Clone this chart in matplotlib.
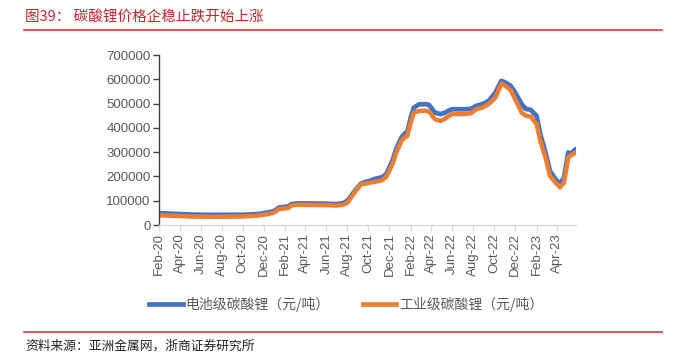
import pandas as pd
import matplotlib.pyplot as plt
import matplotlib.dates as mdates
from matplotlib.lines import Line2D

plt.rcParams['font.family'] = ['Noto Sans CJK SC', 'DejaVu Sans']

dates = pd.to_datetime([
    "2020-02-01", "2020-03-15", "2020-05-01", "2020-06-15", "2020-08-01", "2020-10-01",
    "2020-11-15", "2020-12-15", "2021-01-01", "2021-01-15", "2021-02-01", "2021-02-10",
    "2021-02-20", "2021-03-10", "2021-04-01", "2021-06-01", "2021-07-01", "2021-07-20",
    "2021-08-01", "2021-08-10", "2021-08-25", "2021-09-10", "2021-09-20", "2021-10-05",
    "2021-10-20", "2021-11-01", "2021-11-10", "2021-11-22", "2021-12-10", "2021-12-20",
    "2022-01-05", "2022-01-15", "2022-01-22", "2022-02-01", "2022-02-10", "2022-02-25",
    "2022-03-15", "2022-03-25", "2022-04-01", "2022-04-12", "2022-04-28", "2022-05-10",
    "2022-05-20", "2022-06-01", "2022-07-01", "2022-07-25", "2022-08-10", "2022-08-28",
    "2022-09-15", "2022-10-05", "2022-10-15", "2022-10-22", "2022-11-03", "2022-11-18",
    "2022-12-01", "2022-12-20", "2023-01-01", "2023-01-15", "2023-02-01", "2023-02-12",
    "2023-02-27", "2023-03-12", "2023-03-28", "2023-04-10", "2023-04-22", "2023-05-04",
    "2023-05-10", "2023-05-26",
])

battery = [
    49000, 46000, 43000, 42000, 42000, 42000,
    45000, 52000, 58000, 72000, 75000, 77000,
    86000, 89000, 89000, 88000, 86000, 90000,
    100000, 116000, 145000, 171000, 176000, 182000,
    190000, 194000, 197000, 210000, 265000, 310000,
    361000, 378000, 382000, 443000, 484000, 497000,
    498000, 496000, 484000, 463000, 457000, 462000,
    470000, 477000, 477000, 478000, 491000, 498000,
    511000, 546000, 575000, 594000, 587000, 573000,
    546000, 498000, 478000, 475000, 450000, 374000,
    299000, 223000, 189000, 169000, 196000, 299000,
    292000, 313000,
]

industrial = [
    40000, 38000, 35000, 34000, 34000, 35000,
    39000, 45000, 52000, 66000, 68000, 70000,
    80000, 84000, 83000, 82000, 80000, 84000,
    92000, 110000, 140000, 168000, 170000, 174000,
    178000, 181000, 185000, 199000, 251000, 295000,
    347000, 362000, 367000, 422000, 463000, 470000,
    471000, 468000, 457000, 436000, 429000, 436000,
    447000, 457000, 457000, 460000, 477000, 484000,
    498000, 525000, 560000, 583000, 573000, 556000,
    518000, 463000, 450000, 447000, 416000, 347000,
    278000, 203000, 175000, 155000, 175000, 278000,
    285000, 299000,
]

series_names = ["电池级碳酸锂（元/吨）", "工业级碳酸锂（元/吨）"]
title = "图39： 碳酸锂价格企稳止跌开始上涨"
source = "资料来源：亚洲金属网，浙商证券研究所"

blue = "#4472C4"
orange = "#ED7D31"
grey = "#595959"

fig = plt.figure(figsize=(6.79, 3.58), dpi=100)
ax = fig.add_axes([0.234, 0.3715, 0.614, 0.4745])

ax.plot(dates, battery, color=blue, lw=3.4, solid_capstyle="round")
ax.plot(dates, industrial, color=orange, lw=3.2, solid_capstyle="round")

ax.set_xlim(pd.Timestamp("2020-02-01"), pd.Timestamp("2023-05-26"))
ax.set_ylim(0, 700000)
ax.set_yticks(range(0, 700001, 100000))
ax.xaxis.set_major_locator(mdates.MonthLocator(bymonth=[2, 4, 6, 8, 10, 12]))
ax.xaxis.set_major_formatter(mdates.DateFormatter("%b-%y"))

for s in ["top", "right"]:
    ax.spines[s].set_visible(False)
ax.spines["left"].set_color("#404040")
ax.spines["left"].set_linewidth(1.0)
ax.spines["bottom"].set_color("#D9D9D9")
ax.spines["bottom"].set_linewidth(1.0)
ax.tick_params(axis="y", colors="#404040", labelcolor=grey, labelsize=9.5, length=4, width=1, pad=2)
ax.tick_params(axis="x", colors="#D9D9D9", labelcolor=grey, labelsize=9.5, length=4, width=1,
               labelrotation=90, pad=2)
for lab in ax.get_yticklabels() + ax.get_xticklabels():
    lab.set_family(["Liberation Sans", "DejaVu Sans"])

handles = [Line2D([], [], color=blue, lw=3.4), Line2D([], [], color=orange, lw=3.4)]
leg = fig.legend(handles, series_names, loc="center", bbox_to_anchor=(0.51, 1 - 304 / 358),
                 ncol=2, frameon=False, fontsize=10, handlelength=2.4, handletextpad=0.2,
                 columnspacing=2.4)
for t in leg.get_texts():
    t.set_color(grey)

fig.text(25 / 679, 1 - 17 / 358, title, color="#C0272D", fontsize=10.5, va="center", ha="left")
fig.add_artist(Line2D([24 / 679, 662 / 679], [1 - 30 / 358] * 2, color="#D9383A", lw=1.2))
fig.add_artist(Line2D([24 / 679, 662 / 679], [1 - 332 / 358] * 2, color="#D9383A", lw=1.2))
fig.text(25 / 679, 1 - 346 / 358, source, color="#222222", fontsize=9.2, va="center", ha="left")

fig.savefig("out.png", dpi=100)
